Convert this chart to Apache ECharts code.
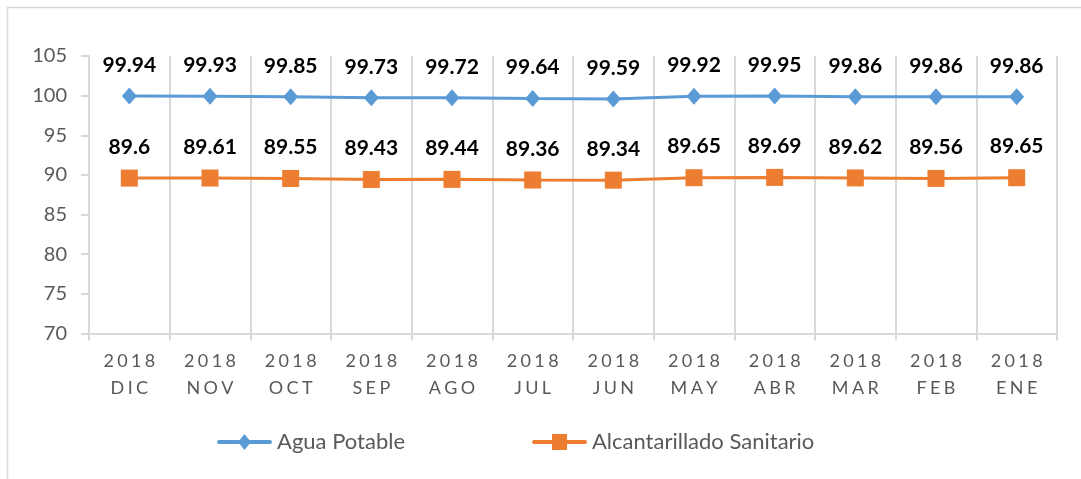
<!DOCTYPE html>
<html>
<head>
<meta charset="utf-8">
<script src="https://cdn.jsdelivr.net/npm/echarts@6/dist/echarts.min.js"></script>
<style>
    html, body { margin: 0; padding: 0; background: #fff; }
    #main { width: 1081px; height: 479px; }
</style>
</head>
<body>
<div id="main"></div>
<script>
// datos
var years = ['2018', '2018', '2018', '2018', '2018', '2018', '2018', '2018', '2018', '2018', '2018', '2018'];
var months = ['DIC', 'NOV', 'OCT', 'SEP', 'AGO', 'JUL', 'JUN', 'MAY', 'ABR', 'MAR', 'FEB', 'ENE'];
var aguaPotable = [99.94, 99.93, 99.85, 99.73, 99.72, 99.64, 99.59, 99.92, 99.95, 99.86, 99.86, 99.86];
var alcantarillado = [89.6, 89.61, 89.55, 89.43, 89.44, 89.36, 89.34, 89.65, 89.69, 89.62, 89.56, 89.65];
var yTicks = [70, 75, 80, 85, 90, 95, 100, 105];

(function () {
    var myChart = echarts.init(document.getElementById('main'));

    // espaciado entre letras
    function spaced(s) {
        return s.split('').join('\u2009\u200a');
    }
    var categories = [];
    for (var i = 0; i < months.length; i++) {
        categories.push(spaced(years[i]) + '\n' + spaced(months[i]));
    }

    var gridColor = '#d9d9d9';
    var textColor = '#595959';
    var font = 'Lato, "Open Sans", sans-serif';

    // iconos de leyenda: linea gruesa + marcador
    var bar = 'M2,6 L53,6 A2,2 0 0 1 53,10 L2,10 A2,2 0 0 1 2,6 Z ';
    var iconDiamond = 'path://' + bar + 'M21,8 L27.5,0 L34,8 L27.5,16 Z';
    var iconSquare = 'path://' + bar + 'M20,0 L35,0 L35,16 L20,16 Z';

    var labelStyle = {
        show: true,
        position: 'top',
        distance: 12,
        color: '#000',
        fontWeight: 'bold',
        fontSize: 21,
        fontFamily: font
    };

    var option = {
        color: ['#5b9bd5', '#ed7d31'],
        textStyle: { fontFamily: font },
        graphic: [{
            type: 'rect',
            shape: { x: 7.5, y: 7.5, width: 1200, height: 600 },
            style: { fill: 'none', stroke: gridColor, lineWidth: 1.5 },
            silent: true
        }],
        legend: {
            top: 426,
            left: 212,
            itemWidth: 55,
            itemHeight: 16,
            itemGap: 127,
            textStyle: { color: textColor, fontSize: 22, fontFamily: font },
            data: [
                { name: 'Agua Potable', icon: iconDiamond },
                { name: 'Alcantarillado Sanitario', icon: iconSquare }
            ]
        },
        grid: {
            left: 89,
            right: 24,
            top: 56,
            bottom: 145.5,
            containLabel: false
        },
        xAxis: {
            type: 'category',
            data: categories,
            boundaryGap: true,
            axisLine: { lineStyle: { color: gridColor, width: 2 } },
            axisTick: { show: true, length: 7, alignWithLabel: false, lineStyle: { color: gridColor, width: 2 } },
            splitLine: { show: true, lineStyle: { color: gridColor, width: 2 } },
            axisLabel: {
                color: textColor,
                fontSize: 18,
                lineHeight: 27,
                margin: 14,
                fontFamily: font,
                interval: 0
            }
        },
        yAxis: {
            type: 'value',
            min: yTicks[0],
            max: yTicks[yTicks.length - 1],
            interval: 5,
            splitLine: { show: false },
            axisLine: { show: true, lineStyle: { color: gridColor, width: 2 } },
            axisTick: { show: true, length: 8, lineStyle: { color: gridColor, width: 2 } },
            axisLabel: { color: textColor, fontSize: 20, margin: 22, fontFamily: font }
        },
        series: [
            {
                name: 'Agua Potable',
                type: 'line',
                data: aguaPotable,
                symbol: 'diamond',
                symbolSize: [15, 17],
                lineStyle: { width: 3 },
                label: labelStyle
            },
            {
                name: 'Alcantarillado Sanitario',
                type: 'line',
                data: alcantarillado,
                symbol: 'rect',
                symbolSize: 17,
                lineStyle: { width: 3 },
                label: labelStyle
            }
        ],
        animation: false
    };

    myChart.setOption(option);

    window.addEventListener('resize', function () {
        myChart.resize();
    });
})();
</script>
</body>
</html>
